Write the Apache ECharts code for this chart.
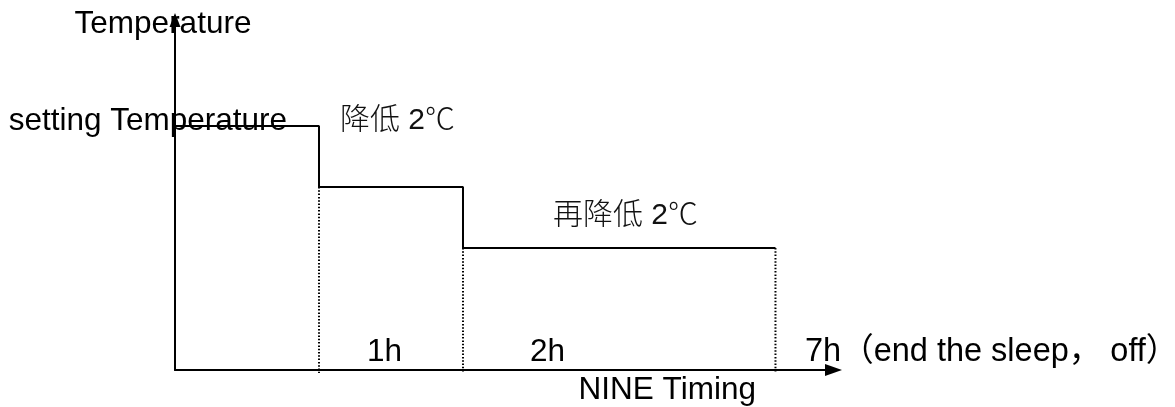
<!DOCTYPE html>
<html>
<head>
<meta charset="utf-8">
<script src="https://cdn.jsdelivr.net/npm/echarts@6/dist/echarts.min.js"></script>
<style>
  html, body { margin: 0; padding: 0; background: #fff; }
  #chart { width: 1175px; height: 407px; }
</style>
</head>
<body>
<div id="chart"></div>
<script>
// step points along the time axis (schematic, not to scale)
var stepX = [0, 1, 2, 4.17]
// temperature relative to the setting, in ℃
var stepT = [0, -2, -4, -4]
// dotted drop lines down to the time axis
var dropX = [1, 2, 4.17]
var dropT = [-2, -4, -4]
var axisMinT = -8
// hour labels sitting on the time axis
var hourText = ['1h', '2h', '7h（end the sleep， off）']
var hourX = [1.333, 2.465, 4.375]
// notes next to the steps
var noteText = ['setting Temperature', '降低 2℃', '再降低 2℃']
var noteX = [0.778, 1.146, 2.625]
var noteT = [0.16, 0.17, -2.95]
var noteAlign = ['right', 'left', 'left']

var FONT = '"Liberation Sans", "Noto Sans CJK SC", sans-serif'
var SIZE = 31.5

var chart = echarts.init(document.getElementById('chart'), null, { renderer: 'canvas' })

var series = [{
  name: 'temperature',
  type: 'line',
  step: 'end',
  symbol: 'none',
  silent: true,
  lineStyle: { color: '#000', width: 2 },
  data: stepX.map(function(x, i) { return [x, stepT[i]] }),
  z: 3
}]

dropX.forEach(function(x, i) {
  series.push({
    type: 'line',
    symbol: 'none',
    silent: true,
    clip: false,
    lineStyle: { color: '#000', width: 2, type: [1.5, 1.8] },
    data: [[x, dropT[i]], [x, axisMinT - 0.1]],
    z: 2
  })
})

series.push({
  name: 'hours',
  type: 'scatter',
  symbolSize: 0,
  silent: true,
  clip: false,
  itemStyle: { opacity: 1 },
  label: {
    show: true,
    position: 'inside',
    align: 'left',
    verticalAlign: 'bottom',
    offset: [0, -2],
    formatter: function(p) { return p.name },
    color: '#000',
    fontFamily: FONT,
    fontSize: SIZE,
    lineHeight: SIZE
  },
  data: hourText.map(function(t, i) {
    var item = { name: t, value: [hourX[i], axisMinT] }
    if (i === hourText.length - 1) item.label = { fontSize: 32.5 }
    return item
  })
})

series.push({
  name: 'notes',
  type: 'scatter',
  symbolSize: 0,
  silent: true,
  clip: false,
  itemStyle: { opacity: 1 },
  label: {
    show: true,
    position: 'inside',
    verticalAlign: 'middle',
    formatter: function(p) { return p.name },
    color: '#000',
    fontFamily: FONT,
    fontSize: SIZE,
    lineHeight: SIZE
  },
  data: noteText.map(function(t, i) {
    var lbl = { align: noteAlign[i] }
    if (i > 0) { lbl.fontWeight = 300; lbl.fontSize = 30; lbl.color = '#111' }
    return { name: t, value: [noteX[i], noteT[i]], label: lbl }
  })
})

chart.setOption({
  animation: false,
  backgroundColor: '#fff',
  grid: { left: 175, right: 341.5, top: 20, bottom: 37, outerBoundsMode: 'none' },
  xAxis: {
    type: 'value',
    min: 0,
    max: 4.573,
    name: 'NINE Timing',
    nameLocation: 'middle',
    nameGap: 5,
    nameTextStyle: {
      color: '#000', fontFamily: FONT, fontSize: SIZE, lineHeight: SIZE,
      verticalAlign: 'top', padding: [0, 0, 0, 326]
    },
    axisLine: {
      show: true,
      onZero: false,
      symbol: ['none', 'triangle'],
      symbolSize: [12, 17],
      lineStyle: { color: '#000', width: 2 }
    },
    axisTick: { show: false },
    axisLabel: { show: false },
    splitLine: { show: false }
  },
  yAxis: {
    type: 'value',
    min: axisMinT,
    max: 3.475,
    name: 'Temperature',
    nameLocation: 'end',
    nameGap: -20,
    nameTextStyle: {
      color: '#000', fontFamily: FONT, fontSize: SIZE, lineHeight: SIZE,
      padding: [0, 24, 0, 0]
    },
    axisLine: {
      show: true,
      onZero: false,
      symbol: ['none', 'triangle'],
      symbolSize: [11, 14],
      lineStyle: { color: '#000', width: 2 }
    },
    axisTick: { show: false },
    axisLabel: { show: false },
    splitLine: { show: false }
  },
  series: series
})
</script>
</body>
</html>
